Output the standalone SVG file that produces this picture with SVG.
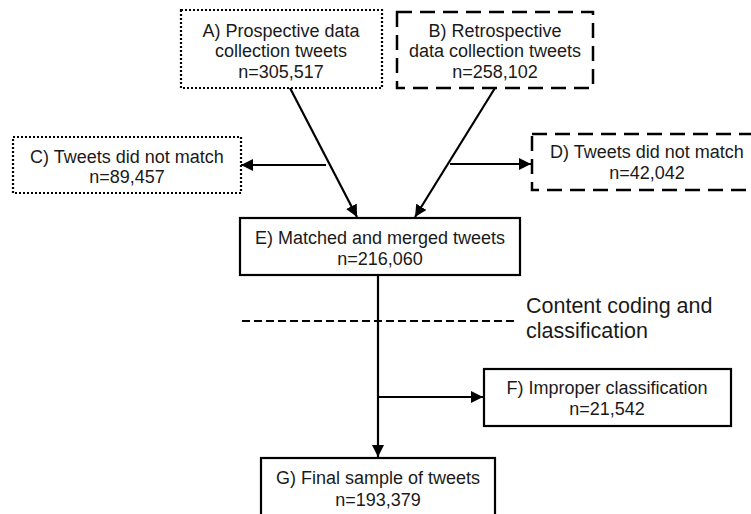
<svg xmlns="http://www.w3.org/2000/svg" width="751" height="514" viewBox="0 0 751 514">
<style>
  .box { fill: #fff; stroke: #000; stroke-width: 2.2; }
  .dot { stroke-dasharray: 2 2; }
  .dash { stroke-dasharray: 15 8; stroke-width: 2.5; }
  text { font-family: "Liberation Sans", Arial, sans-serif; font-size: 18px; fill: #1a1a1a; text-anchor: middle; }
  .big { font-size: 21.5px; text-anchor: start; }
  .conn { stroke: #000; stroke-width: 2.2; fill: none; }
</style>
<defs>
  <marker id="ah" viewBox="0 0 12 12" refX="12" refY="6" markerWidth="12" markerHeight="12" markerUnits="userSpaceOnUse" orient="auto">
    <path d="M0,0 L12,6 L0,12 Z" fill="#000"/>
  </marker>
</defs>
<rect width="751" height="514" fill="#fff"/>
<g id="connectors">
  <line class="conn" x1="290" y1="88" x2="357" y2="217" marker-end="url(#ah)"/>
  <line class="conn" x1="495" y1="88" x2="415" y2="217" marker-end="url(#ah)"/>
  <line class="conn" x1="326" y1="165" x2="241" y2="165" marker-end="url(#ah)"/>
  <line class="conn" x1="450" y1="164" x2="531" y2="164" marker-end="url(#ah)"/>
  <line class="conn" x1="378" y1="275" x2="378" y2="457" marker-end="url(#ah)"/>
  <line class="conn" x1="378" y1="397" x2="483" y2="397" marker-end="url(#ah)"/>
  <line x1="242" y1="321" x2="517" y2="321" stroke="#000" stroke-width="2" stroke-dasharray="8 4"/>
</g>
<g id="nodeA">
  <rect class="box dot" x="181" y="10" width="201" height="78"/>
  <text x="281" y="37">A) Prospective data</text>
  <text x="281" y="57">collection tweets</text>
  <text x="281" y="78">n=305,517</text>
</g>
<g id="nodeB">
  <rect class="box dash" x="397" y="12" width="196" height="76"/>
  <text x="495" y="37">B) Retrospective</text>
  <text x="495" y="57">data collection tweets</text>
  <text x="495" y="78">n=258,102</text>
</g>
<g id="nodeC">
  <rect class="box dot" x="13" y="137" width="228" height="56"/>
  <text x="127" y="163">C) Tweets did not match</text>
  <text x="127" y="183">n=89,457</text>
</g>
<g id="nodeD">
  <rect class="box dash" x="532" y="134" width="240" height="56"/>
  <text x="647" y="158">D) Tweets did not match</text>
  <text x="647" y="179">n=42,042</text>
</g>
<g id="nodeE">
  <rect class="box" x="240" y="218" width="280" height="57"/>
  <text x="380" y="244">E) Matched and merged tweets</text>
  <text x="380" y="265">n=216,060</text>
</g>
<g id="label">
  <text class="big" x="526" y="313">Content coding and</text>
  <text class="big" x="526" y="338">classification</text>
</g>
<g id="nodeF">
  <rect class="box" x="484" y="369" width="247" height="57"/>
  <text x="607" y="394">F) Improper classification</text>
  <text x="607" y="415">n=21,542</text>
</g>
<g id="nodeG">
  <rect class="box" x="261" y="458" width="234" height="60"/>
  <text x="378" y="484">G) Final sample of tweets</text>
  <text x="378" y="506">n=193,379</text>
</g>
</svg>
